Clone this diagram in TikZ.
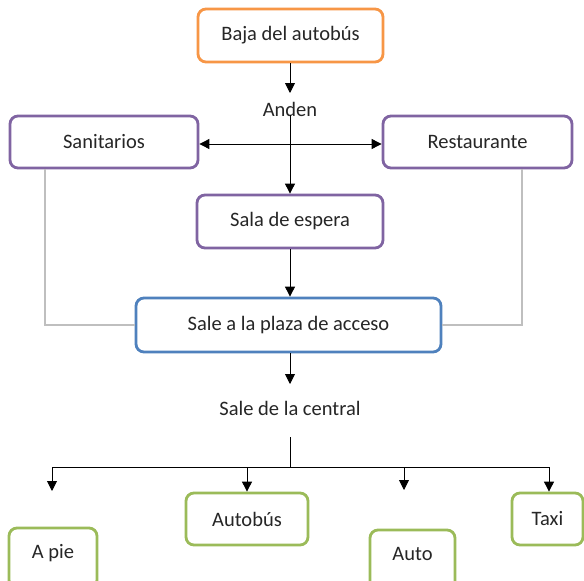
\documentclass[tikz,border=0pt]{standalone}
\usepackage{fontspec}
\setmainfont{Carlito}
\usetikzlibrary{arrows.meta,calc}
\definecolor{corange}{HTML}{F79646}
\definecolor{cpurple}{HTML}{8064A2}
\definecolor{cblue}{HTML}{4F81BD}
\definecolor{cgreen}{HTML}{9BBB59}
\definecolor{ctext}{HTML}{262626}
\definecolor{cline}{HTML}{BFBFBF}
\begin{document}
\begin{tikzpicture}[x=1pt,y=-1pt,
  font=\fontsize{20.5}{24}\selectfont,
  box/.style={draw, rounded corners=8pt, line width=2.8pt, fill=white, text=ctext,
    inner sep=0pt, anchor=center},
  orangebox/.style={box, draw=corange},
  purplebox/.style={box, draw=cpurple},
  bluebox/.style={box, draw=cblue},
  greenbox/.style={box, draw=cgreen},
  plain/.style={text=ctext, inner sep=1pt},
  arr/.style={draw=black, line width=0.9pt, -{Triangle[length=10pt,width=10pt]}},
  darr/.style={draw=black, line width=0.9pt, {Triangle[length=10pt,width=10pt]}-{Triangle[length=10pt,width=10pt]}},
  ln/.style={draw=black, line width=0.9pt},
  grayln/.style={draw=cline, line width=1.6pt}]
\useasboundingbox (0,0) rectangle (584,581);
\fill[white] (0,0) rectangle (584,581);

% boxes
\node[orangebox, minimum width=185pt, minimum height=53pt] (baja) at (290.5,35.5) {Baja del autobús};
\node[purplebox, minimum width=188pt, minimum height=52pt] (sani) at (104,142) {Sanitarios};
\node[purplebox, minimum width=189pt, minimum height=52pt] (rest) at (477.5,142) {Restaurante};
\node[purplebox, minimum width=186pt, minimum height=53pt] (sala) at (290,221.5) {Sala de espera};
\node[bluebox, minimum width=305pt, minimum height=54pt] (plaza) at (288.5,325) {Sale a la plaza de acceso};
\node[greenbox, minimum width=88pt, minimum height=60pt, text depth=14pt] (apie) at (53,558) {A pie};
\node[greenbox, minimum width=122pt, minimum height=52pt] (autobus) at (247,519) {Autobús};
\node[greenbox, minimum width=85pt, minimum height=60pt, text depth=12pt] (auto) at (412.5,560) {Auto};
\node[greenbox, minimum width=71pt, minimum height=52pt] (taxi) at (547.5,519) {Taxi};

% plain labels
\node[plain] (anden) at (290,109) {Anden};
\node[plain] (central) at (290,408) {Sale de la central};

% coordinates
\coordinate (andtop) at (290,93);
\coordinate (andbot) at (290,115);
\coordinate (sctip) at (290,384);
\coordinate (stub) at (290,437);
\coordinate (split) at (290,467);
\coordinate (bl) at (52,467);
\coordinate (br) at (549,467);
\coordinate (apietip) at (52,491);
\coordinate (autotop) at (404,467);
\coordinate (autotip) at (404,490);

% gray connectors
\draw[grayln] ([xshift=-59pt]sani.south) |- (plaza.west);
\draw[grayln] ([xshift=44.5pt]rest.south) |- (plaza.east);

% arrows
\draw[arr] (baja.south -| andtop) -- (andtop);
\draw[arr] (andbot) -- (andbot |- sala.north);
\draw[darr] ([yshift=-2pt]sani.east) -- ([yshift=-2pt]rest.west);
\draw[arr] (sala.south) -- (sala.south |- plaza.north);
\draw[arr] (plaza.south -| sctip) -- (sctip);
\draw[ln] (stub) -- (split);
\draw[ln] (bl) -- (br);
\draw[arr] (bl) -- (apietip);
\draw[arr] (autobus.north |- split) -- (autobus.north);
\draw[arr] (autotop) -- (autotip);
\draw[arr] (br) -- (br |- taxi.north);
\end{tikzpicture}
\end{document}
